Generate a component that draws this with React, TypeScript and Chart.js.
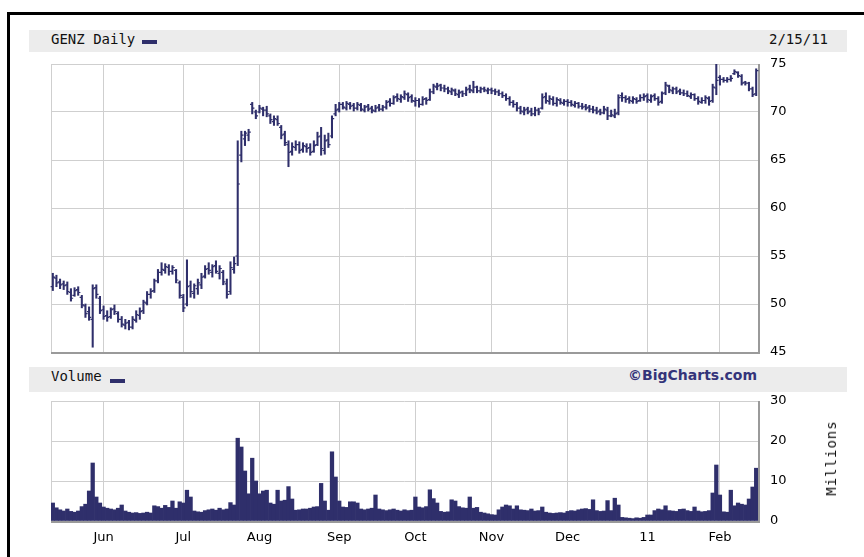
import React, { useEffect, useRef } from 'react';
import { Chart, registerables } from 'chart.js';

Chart.register(...registerables);

// ---------- categories (trading days) ----------
const START_DATE = '2010-05-11';
const END_DATE = '2011-02-15';
const HOLIDAYS = ['2010-05-31', '2010-07-05', '2010-09-06', '2010-11-25', '2010-12-24', '2011-01-17'];

function tradingDays(): string[] {
  const out: string[] = [];
  const d = new Date(START_DATE + 'T12:00:00Z');
  const end = new Date(END_DATE + 'T12:00:00Z');
  while (d <= end) {
    const dow = d.getUTCDay();
    const s = d.toISOString().slice(0, 10);
    if (dow !== 0 && dow !== 6 && !HOLIDAYS.includes(s)) out.push(s);
    d.setUTCDate(d.getUTCDate() + 1);
  }
  return out;
}
const dates = tradingDays();

// ---------- tick labels ----------
const monthLabels = ['Jun', 'Jul', 'Aug', 'Sep', 'Oct', 'Nov', 'Dec', '11', 'Feb'];
const priceTicks = [45, 50, 55, 60, 65, 70, 75];
const volumeTicks = [0, 10, 20, 30];

// ---------- series ----------
const highs = [
  53.2, 53.0, 52.6, 52.4, 52.3, 51.6, 51.7, 51.8, 50.9, 50.0,
  49.7, 52.0, 52.0, 50.8,
  49.8, 49.3, 49.6, 49.9, 49.2, 48.7, 48.4, 48.3, 48.7, 49.3,
  49.6, 50.4, 51.3, 51.6, 52.6, 53.6, 54.3, 54.2, 54.1, 54.0, 53.6, 52.4,
  51.0, 54.6, 52.4, 52.1, 52.6, 53.2, 54.0, 54.3, 54.1, 54.5,
  54.0, 53.5, 52.6, 54.4, 54.9, 67.0, 68.0, 68.0, 68.2, 71.0, 70.2,
  70.7, 70.5, 70.6, 69.8, 69.6, 69.6, 68.6, 68.0, 67.0, 66.8,
  67.0, 66.9, 66.8, 66.7, 66.7, 67.0, 67.9, 68.4, 67.6, 67.8, 69.6, 70.8,
  71.0, 71.0, 71.1, 71.0, 70.9, 71.0, 70.9, 70.7, 70.8, 70.6, 70.7,
  70.8, 70.7, 71.2, 71.4, 71.7, 71.9, 71.8, 72.2, 72.0, 71.8,
  71.5, 71.4, 71.6, 71.5, 72.4, 72.9, 73.0, 72.9, 72.8, 72.6, 72.5,
  72.4, 72.3, 72.2, 72.6, 72.8, 73.2, 72.7, 72.6, 72.6, 72.5,
  72.5, 72.4, 72.3, 72.1, 71.9, 71.6, 71.2, 71.0, 70.6, 70.5, 70.5,
  70.4, 70.5, 70.4, 71.9, 72.0, 71.7, 71.6, 71.5, 71.4, 71.3,
  71.3, 71.2, 71.1, 71.0, 70.9, 70.8, 70.7, 70.6, 70.5, 70.3, 70.6,
  70.5, 70.2, 70.3, 71.8, 72.0, 71.7, 71.6, 71.6, 71.5, 71.8, 71.9,
  71.9, 71.8, 71.9, 71.6, 72.1, 73.1, 72.8, 72.6, 72.6, 72.4,
  72.3, 72.2, 72.0, 71.9, 71.6, 71.5, 71.7, 71.6, 72.9, 75.0,
  73.8, 73.6, 73.6, 73.8, 74.4, 74.2, 73.9, 73.2, 73.1, 72.6, 74.5,
];

const lows = [
  51.4, 51.8, 51.6, 51.5, 51.0, 50.3, 50.8, 50.9, 49.6, 48.6,
  48.3, 45.5, 50.6, 49.0,
  48.4, 48.2, 48.5, 48.9, 48.1, 47.6, 47.4, 47.3, 47.4, 48.1,
  48.4, 49.0, 49.9, 50.6, 51.2, 52.2, 53.0, 53.2, 53.0, 53.1, 52.2, 50.6,
  49.2, 49.8, 50.7, 50.6, 51.0, 51.6, 52.7, 53.1, 52.8, 53.2,
  52.6, 52.0, 50.6, 51.0, 53.2, 54.0, 64.8, 66.5, 67.0, 69.8, 69.3,
  69.9, 69.6, 69.5, 68.8, 68.6, 68.6, 67.2, 66.5, 64.3, 65.5,
  66.0, 65.7, 65.8, 65.8, 65.5, 65.8, 66.5, 65.5, 65.6, 66.3, 67.3, 69.6,
  70.0, 70.3, 70.2, 70.3, 70.1, 70.2, 70.1, 70.0, 70.1, 69.9, 70.0,
  70.1, 70.1, 70.3, 70.6, 70.8, 71.1, 71.0, 71.3, 71.1, 71.0,
  70.6, 70.5, 70.7, 70.8, 71.2, 71.9, 72.3, 72.2, 72.1, 71.9, 71.8,
  71.7, 71.5, 71.6, 71.7, 72.0, 72.0, 72.0, 72.0, 72.1, 71.9,
  71.9, 71.8, 71.7, 71.5, 71.2, 70.7, 70.5, 70.1, 69.8, 69.7, 69.8,
  69.6, 69.6, 69.7, 70.3, 70.9, 70.8, 70.7, 70.6, 70.8, 70.7,
  70.6, 70.6, 70.5, 70.4, 70.3, 70.2, 70.0, 69.9, 69.8, 69.7, 69.8,
  69.2, 69.5, 69.4, 69.7, 71.1, 71.0, 70.9, 70.9, 70.9, 71.1, 71.2,
  71.0, 71.0, 71.2, 70.7, 70.9, 71.8, 72.0, 71.9, 71.9, 71.8,
  71.7, 71.6, 71.4, 71.2, 70.8, 70.9, 70.9, 70.7, 71.0, 71.8,
  72.8, 73.1, 73.1, 73.2, 73.9, 73.6, 72.8, 72.8, 72.2, 71.6, 71.7,
];

const opens = [
  51.8, 52.7, 52.3, 52.1, 52.0, 51.2, 50.9, 51.5, 50.7, 49.8,
  49.2, 48.4, 51.7, 50.6,
  49.4, 48.8, 48.7, 49.5, 49.0, 48.4, 47.8, 48.1, 47.6, 48.3,
  48.8, 49.3, 50.1, 51.0, 51.4, 52.4, 53.3, 53.5, 53.8, 53.4, 53.5, 52.2,
  50.7, 50.0, 51.9, 51.1, 51.6, 52.0, 52.9, 53.7, 53.3, 54.0,
  53.2, 53.3, 52.1, 51.3, 53.6, 55.0, 65.5, 67.2, 67.6, 70.8, 70.0,
  70.0, 70.3, 70.2, 69.6, 69.0, 69.2, 68.4, 67.7, 66.6, 65.9,
  66.3, 66.6, 66.1, 66.4, 66.3, 65.9, 66.6, 67.5, 66.0, 67.1, 67.5, 69.8,
  70.3, 70.8, 70.4, 70.8, 70.7, 70.4, 70.7, 70.2, 70.6, 70.4, 70.1,
  70.5, 70.3, 70.5, 71.1, 70.9, 71.6, 71.3, 71.5, 71.8, 71.6,
  71.1, 71.2, 70.8, 71.4, 71.3, 72.1, 72.6, 72.8, 72.5, 72.4, 72.1,
  72.2, 71.8, 72.1, 71.9, 72.4, 72.2, 72.6, 72.2, 72.4, 72.2,
  72.3, 72.2, 72.1, 71.9, 71.7, 71.4, 71.0, 70.8, 70.4, 70.0, 70.3,
  70.1, 69.8, 70.2, 70.4, 71.6, 71.1, 71.3, 70.9, 71.2, 70.9,
  71.1, 71.0, 70.7, 70.9, 70.6, 70.6, 70.5, 70.3, 70.2, 70.1, 69.9,
  70.2, 69.6, 69.6, 69.9, 71.7, 71.5, 71.4, 71.1, 71.3, 71.2, 71.5,
  71.7, 71.2, 71.7, 71.4, 71.1, 72.0, 72.7, 72.2, 72.4, 72.2,
  72.0, 71.9, 71.6, 71.8, 71.4, 71.0, 71.2, 71.4, 71.2, 72.5,
  73.6, 73.4, 73.3, 73.4, 74.0, 74.1, 73.7, 73.1, 73.0, 72.4, 71.9,
];

const closes = [
  52.8, 52.2, 52.0, 51.9, 51.3, 50.6, 51.4, 51.2, 49.9, 49.0,
  48.6, 51.6, 51.0, 49.3,
  48.7, 48.6, 49.4, 49.2, 48.4, 47.9, 48.0, 47.6, 48.4, 48.9,
  49.2, 50.2, 51.0, 51.3, 52.4, 53.3, 53.6, 53.9, 53.4, 53.8, 52.5, 50.9,
  49.6, 51.8, 51.3, 51.9, 52.2, 52.8, 53.6, 53.5, 53.9, 53.4,
  53.7, 52.3, 51.0, 53.8, 54.2, 62.5, 67.6, 67.8, 67.9, 70.4, 69.6,
  70.4, 70.2, 69.8, 69.2, 69.3, 68.8, 67.6, 66.8, 65.8, 66.4,
  66.6, 66.0, 66.5, 66.2, 65.8, 66.5, 67.4, 66.2, 67.0, 66.6, 69.3, 70.2,
  70.8, 70.5, 70.9, 70.6, 70.4, 70.8, 70.3, 70.5, 70.3, 70.2, 70.4,
  70.3, 70.5, 71.0, 70.9, 71.5, 71.4, 71.6, 71.9, 71.5, 71.2,
  71.2, 70.8, 71.3, 71.2, 72.1, 72.7, 72.7, 72.5, 72.4, 72.2, 72.3,
  71.9, 72.0, 71.9, 72.3, 72.3, 72.6, 72.2, 72.4, 72.3, 72.3,
  72.2, 72.1, 71.9, 71.7, 71.4, 71.0, 70.8, 70.4, 70.1, 70.2, 70.0,
  69.8, 70.2, 70.0, 71.5, 71.2, 71.4, 70.9, 71.3, 71.0, 71.1,
  71.0, 70.8, 70.9, 70.6, 70.5, 70.4, 70.3, 70.2, 70.0, 69.9, 70.3,
  69.6, 69.7, 69.8, 71.5, 71.5, 71.3, 71.2, 71.4, 71.1, 71.5, 71.6,
  71.3, 71.6, 71.4, 71.0, 71.9, 72.8, 72.3, 72.4, 72.1, 72.0,
  71.9, 71.7, 71.8, 71.4, 71.1, 71.2, 71.5, 71.1, 72.6, 73.3,
  73.4, 73.3, 73.4, 73.5, 74.2, 73.8, 73.0, 73.0, 72.4, 71.8, 74.3,
];

// volume, millions of shares
const volumes = [
  4.5, 3.3, 2.8, 2.5, 3.0, 2.4, 2.2, 2.5, 3.6, 4.2, 7.5, 14.5, 6.0, 4.5,
  3.5, 3.2, 3.0, 2.8, 3.2, 4.0, 2.5, 2.2, 2.0, 2.1, 1.9, 2.0, 2.2, 2.0, 3.8, 3.6, 3.2, 3.9, 3.4, 5.0, 3.2, 4.8,
  4.5, 7.7, 6.0, 2.5, 2.3, 2.2, 2.6, 2.8, 3.0, 2.7, 3.2, 2.8, 3.0, 4.6, 4.0, 20.7, 18.5, 12.5, 6.8, 15.7, 10.0,
  6.8, 7.5, 7.7, 4.5, 4.2, 7.7, 5.0, 5.2, 8.6, 5.5, 2.7, 2.8, 3.0, 3.0, 3.2, 3.5, 3.6, 9.4, 5.0, 2.7, 17.3, 11.0,
  5.0, 3.5, 3.4, 4.8, 4.8, 4.5, 3.0, 2.8, 3.0, 3.2, 6.5, 3.0, 2.8, 2.6, 2.8, 3.0, 2.7, 2.5, 2.8, 2.6, 2.7,
  6.0, 3.5, 3.3, 3.6, 7.8, 5.6, 4.5, 2.4, 2.2, 2.3, 5.3, 5.0, 3.6, 3.3, 3.2, 6.0, 3.2, 3.4, 2.2, 2.0, 1.8,
  1.6, 1.5, 2.8, 3.5, 4.0, 3.8, 3.0, 3.8, 2.8, 2.7, 2.6, 3.0, 2.5, 2.6, 3.5, 2.2, 2.0, 1.9, 2.0, 2.1, 2.0,
  2.4, 2.6, 2.5, 2.8, 3.0, 3.1, 2.9, 5.3, 2.6, 2.4, 2.5, 5.1, 2.6, 5.7, 4.0, 0.9, 0.8, 0.7, 0.6, 0.8, 0.7, 0.9,
  1.5, 1.5, 2.6, 3.0, 2.8, 3.8, 2.6, 2.5, 2.4, 2.9, 3.0, 2.6, 2.4, 3.5, 2.5, 2.3, 2.4, 2.6, 7.0, 14.0,
  6.5, 2.3, 2.2, 7.7, 3.8, 4.5, 4.2, 4.0, 5.5, 8.5, 13.2,
];

// ---------- styling ----------
const NAVY = '#2f2f6b';
const GRID = '#cfcfcf';
const FRAME_DARK = '#9a9a9a';
const HEADER_BG = '#ececec';
const MONO = "'DejaVu Sans Mono', monospace";
const SANS = "'DejaVu Sans', sans-serif";

const monthStarts: number[] = [];
for (let i = 1; i < dates.length; i++) {
  if (dates[i].slice(5, 7) !== dates[i - 1].slice(5, 7)) monthStarts.push(i);
}

const framePlugin = {
  id: 'frame',
  beforeDatasetsDraw(chart: any) {
    const { ctx, chartArea: a } = chart;
    ctx.save();
    ctx.strokeStyle = GRID;
    ctx.lineWidth = 1;
    ctx.beginPath();
    ctx.moveTo(Math.round(a.left) + 0.5, a.top);
    ctx.lineTo(Math.round(a.left) + 0.5, a.bottom);
    ctx.stroke();
    ctx.restore();
  },
  afterDatasetsDraw(chart: any) {
    const { ctx, chartArea: a } = chart;
    ctx.save();
    ctx.strokeStyle = FRAME_DARK;
    ctx.lineWidth = 2;
    ctx.beginPath();
    ctx.moveTo(Math.round(a.right) + 1, a.top);
    ctx.lineTo(Math.round(a.right) + 1, Math.round(a.bottom) + 2);
    ctx.moveTo(a.left, Math.round(a.bottom) + 1);
    ctx.lineTo(Math.round(a.right) + 2, Math.round(a.bottom) + 1);
    ctx.stroke();
    ctx.restore();
  },
};

const ohlcTickPlugin = {
  id: 'ohlcTicks',
  afterDatasetsDraw(chart: any) {
    const xs = chart.scales.x;
    const ys = chart.scales.y;
    const ctx = chart.ctx;
    ctx.save();
    ctx.strokeStyle = NAVY;
    ctx.lineWidth = 1.2;
    ctx.beginPath();
    for (let i = 0; i < closes.length; i++) {
      const px = xs.getPixelForValue(i);
      const yo = ys.getPixelForValue(opens[i]);
      const yc = ys.getPixelForValue(closes[i]);
      ctx.moveTo(px - 2.2, yo);
      ctx.lineTo(px, yo);
      ctx.moveTo(px, yc);
      ctx.lineTo(px + 2.2, yc);
    }
    ctx.stroke();
    ctx.restore();
  },
};

function xScale(showLabels: boolean) {
  return {
    offset: true,
    grid: { offset: false, color: GRID, drawTicks: false },
    border: { display: false },
    ticks: {
      display: showLabels,
      autoSkip: false,
      maxRotation: 0,
      padding: 9,
      color: '#000',
      font: { size: 13, family: SANS },
      callback: (_v: any, idx: number) => monthLabels[idx],
    },
    afterBuildTicks: (s: any) => {
      s.ticks = monthStarts.map((v) => ({ value: v }));
    },
    afterFit: (s: any) => {
      s.height = showLabels ? 36 : 0;
    },
  };
}

function yScale(min: number, max: number, ticks: number[]) {
  return {
    position: 'right',
    min,
    max,
    grid: { color: GRID, drawTicks: true, tickLength: 12, tickColor: 'rgba(0,0,0,0)' },
    border: { display: false },
    ticks: {
      padding: 0,
      color: '#000',
      font: { size: 13, family: SANS },
      callback: (v: any) => String(v),
    },
    afterBuildTicks: (s: any) => {
      s.ticks = ticks.map((v) => ({ value: v }));
    },
    afterFit: (s: any) => {
      s.width = 106;
    },
  };
}

export default function App() {
  const priceRef = useRef<HTMLCanvasElement>(null);
  const volRef = useRef<HTMLCanvasElement>(null);

  useEffect(() => {
    const price = new Chart(priceRef.current as HTMLCanvasElement, {
      type: 'bar',
      data: {
        labels: dates,
        datasets: [
          {
            data: lows.map((l, i) => [l, highs[i]]) as any,
            backgroundColor: NAVY,
            barThickness: 1.4,
            borderWidth: 0,
          },
        ],
      },
      options: {
        animation: false,
        responsive: false,
        devicePixelRatio: 1,
        layout: { padding: { left: 51, top: 8, bottom: 8, right: 0 } },
        plugins: { legend: { display: false }, tooltip: { enabled: false } },
        scales: { x: xScale(false) as any, y: yScale(45, 75, priceTicks) as any },
      },
      plugins: [framePlugin, ohlcTickPlugin],
    });

    const vol = new Chart(volRef.current as HTMLCanvasElement, {
      type: 'bar',
      data: {
        labels: dates,
        datasets: [
          {
            data: volumes,
            backgroundColor: NAVY,
            borderWidth: 0,
            barPercentage: 1,
            categoryPercentage: 1,
          },
        ],
      },
      options: {
        animation: false,
        responsive: false,
        devicePixelRatio: 1,
        layout: { padding: { left: 51, top: 8, bottom: 0, right: 0 } },
        plugins: { legend: { display: false }, tooltip: { enabled: false } },
        scales: { x: xScale(true) as any, y: yScale(0, 30, volumeTicks) as any },
      },
      plugins: [framePlugin],
    });

    return () => {
      price.destroy();
      vol.destroy();
    };
  }, []);

  const abs = (o: any) => ({ position: 'absolute' as const, ...o });

  return (
    <div
      style={{
        position: 'fixed',
        left: 0,
        top: 0,
        width: 864,
        height: 557,
        overflow: 'hidden',
        background: '#fff',
      }}
    >
      {/* outer frame */}
      <div style={abs({ left: 7, top: 12, width: 900, height: 600, borderLeft: '3px solid #000', borderTop: '3px solid #000' })} />

      {/* price header */}
      <div style={abs({ left: 29, top: 30, width: 818, height: 22, background: HEADER_BG })} />
      <div style={abs({ left: 51, top: 31, height: 22, lineHeight: '22px', font: `14px ${MONO}`, color: '#111', whiteSpace: 'nowrap' })}>GENZ Daily</div>
      <div style={abs({ left: 142, top: 40, width: 15, height: 4, background: NAVY })} />
      <div style={abs({ left: 769, top: 31, height: 22, lineHeight: '22px', font: `14px ${MONO}`, color: '#111', whiteSpace: 'nowrap' })}>2/15/11</div>

      <canvas ref={priceRef} width={864} height={304} style={abs({ left: 0, top: 56, width: 864, height: 304 })} />

      {/* volume header */}
      <div style={abs({ left: 29, top: 367, width: 818, height: 25, background: HEADER_BG })} />
      <div style={abs({ left: 51, top: 368, height: 25, lineHeight: '25px', font: `14px ${MONO}`, color: '#111', whiteSpace: 'nowrap' })}>Volume</div>
      <div style={abs({ left: 110, top: 379, width: 15, height: 4, background: NAVY })} />
      <div style={abs({ right: 107, top: 367, height: 25, lineHeight: '25px', font: `bold 14px ${SANS}`, color: '#34347a', whiteSpace: 'nowrap' })}>©BigCharts.com</div>

      <canvas ref={volRef} width={864} height={164} style={abs({ left: 0, top: 393, width: 864, height: 164 })} />

      <div
        style={abs({
          left: 831,
          top: 458,
          transform: 'translate(-50%, -50%) rotate(-90deg)',
          font: `14px ${MONO}`,
          letterSpacing: '1px',
          color: '#111',
          whiteSpace: 'nowrap',
        })}
      >
        Millions
      </div>
    </div>
  );
}
